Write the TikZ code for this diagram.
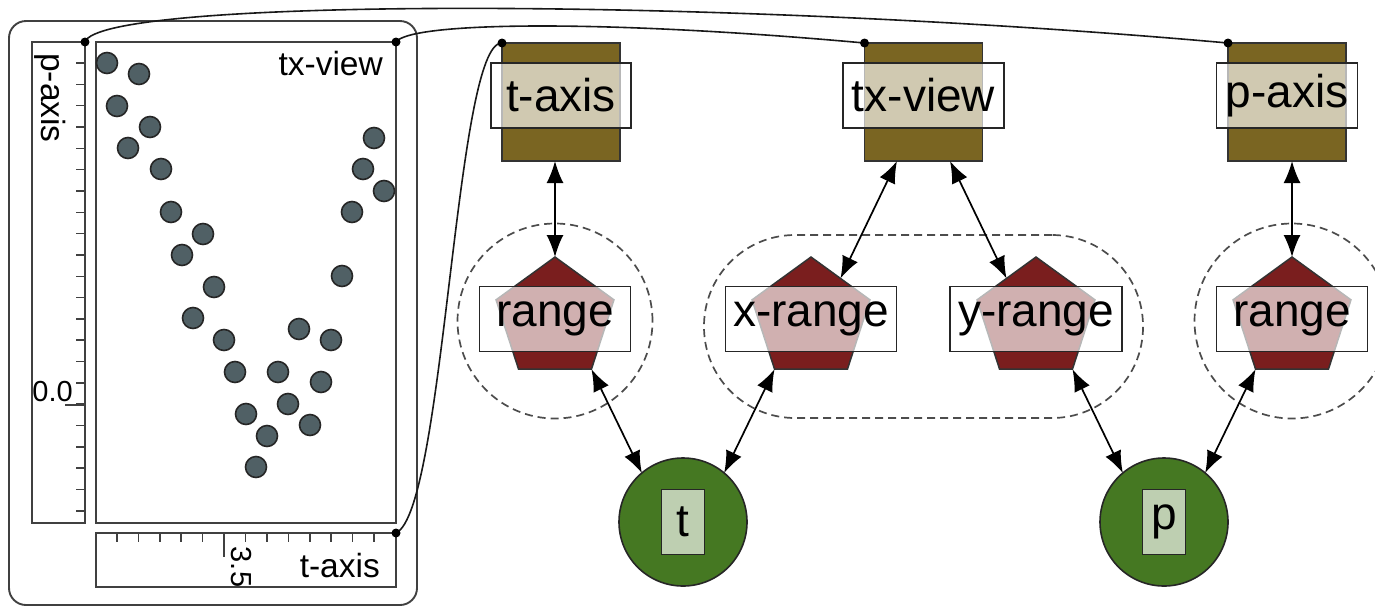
\documentclass[tikz,border=0pt]{standalone}
\usepackage{fontspec}
\setmainfont{Liberation Sans}
\usetikzlibrary{arrows.meta,shapes.geometric}
\definecolor{axisfill}{RGB}{122,101,34}
\definecolor{rangefill}{RGB}{122,30,30}
\definecolor{varfill}{RGB}{69,120,34}
\definecolor{dotfill}{RGB}{80,96,101}
\newcommand{\bigtxt}{\fontsize{46}{50}\selectfont}
\newcommand{\midtxt}{\fontsize{33.5}{36}\selectfont}
\newcommand{\smalltxt}{\fontsize{29}{32}\selectfont}

\begin{document}
\begin{tikzpicture}[x=1pt, y=-1pt,
    frame/.style={draw=black!75, line width=1.9pt, inner sep=0pt, outer sep=0pt},
    axisnode/.style={draw=black!80, line width=1.5pt, fill=axisfill, minimum size=118pt, inner sep=0pt, outer sep=0pt},
    rangenode/.style={regular polygon, regular polygon sides=5, minimum size=124pt, inner sep=0pt, outer sep=0pt, fill=rangefill, draw=black!80, line width=1.5pt},
    varnode/.style={circle, minimum size=128pt, inner sep=0pt, outer sep=0pt, fill=varfill, draw=black!85, line width=1.6pt},
    tag/.style={draw=black!85, line width=1.7pt, fill=white, fill opacity=0.65, text opacity=1, font=\bigtxt, inner sep=0pt, minimum height=65pt},
    group/.style={draw=black!70, line width=1.7pt, dash pattern=on 8pt off 5pt, inner sep=0pt},
    tickline/.style={draw=black!75, line width=1.6pt},
    plotdot/.style={draw=black!85, line width=1.6pt, fill=dotfill},
    link/.style={draw=black!90, line width=1.6pt},
    both/.style={{Latex[length=22pt,width=17pt]}-{Latex[length=22pt,width=17pt]}, line width=1.7pt}]
\useasboundingbox (0,0) rectangle (1375,606);

\node[frame, rounded corners=17pt, minimum width=408pt, minimum height=584pt] (panel) at (213,313) {};
\node[frame, minimum width=53pt, minimum height=481pt] (paxisbox) at (58.5,282.5) {};
\node[frame, minimum width=300pt, minimum height=481pt] (txviewbox) at (246,282.5) {};
\node[frame, minimum width=300pt, minimum height=54pt] (taxisbox) at (246,560) {};

\foreach \k in {0,...,21}
    \draw[tickline] (76,{63+21.33*\k}) -- (85,{63+21.33*\k});
\draw[tickline] (65,405) -- (85,405);
\foreach \k in {0,...,12}
    \draw[tickline] ({117+21.42*\k},533) -- ({117+21.42*\k},542);
\draw[tickline] (224,533) -- (224,557);

\foreach \px/\py in {107/63, 139/74, 117/106, 150/127, 128/148, 161/169, 171/212, 203/234, 182/255,
        214/287, 193/318, 224/340, 235/372, 246/414, 267/436, 256/467, 278/372, 299/329,
        288/404, 310/425, 321/382, 331/340, 342/276, 352/212, 363/169, 374/138, 384/191}
    \draw[plotdot] (\px,\py) circle (10.5pt);

\node[rotate=-90, font=\midtxt, inner sep=0pt] (paxistitle) at (50,98) {p-axis};
\node[anchor=east, font=\smalltxt, inner sep=0pt] (zerolabel) at (73,392) {0.0};
\node[anchor=base east, font=\midtxt, inner sep=0pt] (txviewtitle) at (383,75) {tx-view};
\node[rotate=-90, font=\smalltxt, inner sep=0pt] (ticklabel) at (241,567) {3.5};
\node[anchor=base east, font=\midtxt, inner sep=0pt] (taxistitle) at (380,577) {t-axis};

\node[axisnode] (taxis) at (561,102) {};
\node[axisnode] (txview) at (923.5,102) {};
\node[axisnode] (paxis) at (1287,102) {};
\node[tag, minimum width=140pt] (taxistag) at ([yshift=6.5pt]taxis) {t-axis};
\node[tag, minimum width=161pt] (txviewtag) at ([yshift=6.5pt]txview) {tx-view};
\node[tag, minimum width=141pt] (paxistag) at ([yshift=6.5pt]paxis) {p-axis};

\node[group, circle, minimum size=195pt] (tgroup) at (555,321) {};
\node[group, rounded corners=91pt, minimum width=439pt, minimum height=183pt] (xygroup) at (923.5,326.5) {};
\node[group, circle, minimum size=195pt] (pgroup) at (1292,321) {};

\node[rangenode] (trange) at (555,319) {};
\node[rangenode] (xrange) at (811,319) {};
\node[rangenode] (yrange) at (1036,319) {};
\node[rangenode] (prange) at (1292,319) {};
\node[tag, minimum width=151pt] (trangetag) at (trange) {range};
\node[tag, minimum width=171pt] (xrangetag) at (xrange) {x-range};
\node[tag, minimum width=172pt] (yrangetag) at (yrange) {y-range};
\node[tag, minimum width=151pt] (prangetag) at (prange) {range};

\node[varnode] (t) at (683,522) {};
\node[varnode] (p) at (1164,522) {};
\node[tag, minimum width=43pt] (ttag) at (t) {t};
\node[tag, minimum width=43pt] (ptag) at (p) {p};

\draw[both] (taxis.south -| trange.corner 1) -- (trange.corner 1);
\draw[both] ([xshift=-26.5pt]txview.south) -- (xrange.side 5);
\draw[both] ([xshift=26.5pt]txview.south) -- (yrange.side 1);
\draw[both] (paxis.south -| prange.corner 1) -- (prange.corner 1);
\draw[both] (trange.corner 4) -- (t.130);
\draw[both] (xrange.corner 3) -- (t.50);
\draw[both] (yrange.corner 4) -- (p.130);
\draw[both] (prange.corner 3) -- (p.50);

\draw[link] (paxisbox.north east) .. controls +(14,-44) and +(-528,-47) .. (paxis.north west);
\draw[link] (txviewbox.north east) .. controls +(14,-20) and +(-264,-24) .. (txview.north west);
\draw[link] (taxisbox.north east) .. controls +(49,-23) and +(-47,-2) .. (taxis.north west);
\fill (paxisbox.north east) circle (4.5pt);
\fill (txviewbox.north east) circle (4.5pt);
\fill (taxisbox.north east) circle (4.5pt);
\fill (taxis.north west) circle (4.5pt);
\fill (txview.north west) circle (4.5pt);
\fill (paxis.north west) circle (4.5pt);
\end{tikzpicture}
\end{document}
